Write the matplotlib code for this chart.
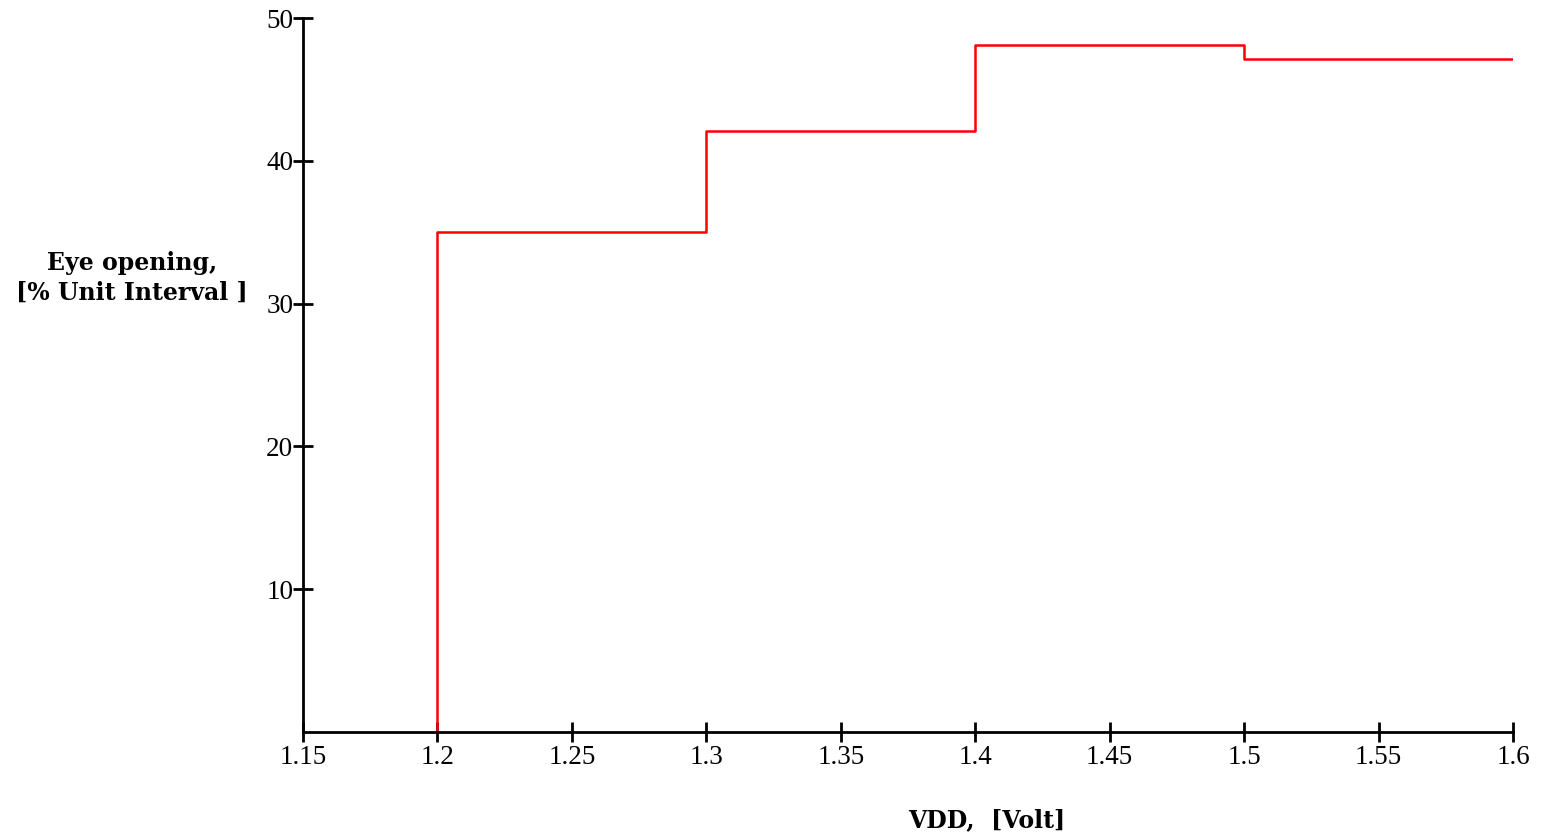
import matplotlib
matplotlib.use('Agg')
import matplotlib.pyplot as plt

# dados
vdd = [1.2, 1.2, 1.3, 1.4, 1.5, 1.6]
abertura_olho = [0, 35.0, 42.1, 48.1, 47.1, 47.1]
ticks_x = [1.15, 1.2, 1.25, 1.3, 1.35, 1.4, 1.45, 1.5, 1.55, 1.6]
rotulos_x = ['1.15', '1.2', '1.25', '1.3', '1.35', '1.4', '1.45', '1.5', '1.55', '1.6']
ticks_y = [10, 20, 30, 40, 50]

plt.rcParams['font.family'] = ['Liberation Serif', 'DejaVu Serif']

fig = plt.figure(figsize=(15.43, 8.35), dpi=100)
ax = fig.add_axes([303 / 1543, 1 - 732 / 835, 1210 / 1543, 714 / 835])

ax.plot(vdd, abertura_olho, drawstyle='steps-post', color='red', linewidth=1.8)

ax.set_xlim(1.15, 1.6)
ax.set_ylim(0, 50)
ax.set_xticks(ticks_x)
ax.set_xticklabels(rotulos_x)
ax.set_yticks(ticks_y)

for lado in ['top', 'right']:
    ax.spines[lado].set_visible(False)
for lado in ['left', 'bottom']:
    ax.spines[lado].set_linewidth(2)

ax.tick_params(axis='both', direction='inout', length=14, width=2,
               labelsize=19.5, pad=0)
ax.tick_params(axis='x', pad=2)
for rotulo in ax.get_yticklabels():
    rotulo.set_va('center_baseline')

fonte_titulo = {'family': 'DejaVu Serif', 'weight': 'bold', 'size': 17}
fig.text(132 / 1543, 1 - 278 / 835, 'Eye opening,\n[% Unit Interval ]',
         ha='center', va='center', fontdict=fonte_titulo, linespacing=1.3)
fig.text(987 / 1543, 1 - 820 / 835, 'VDD,  [Volt]',
         ha='center', va='center', fontdict=fonte_titulo)

fig.savefig('out.png', dpi=100)
plt.close(fig)
